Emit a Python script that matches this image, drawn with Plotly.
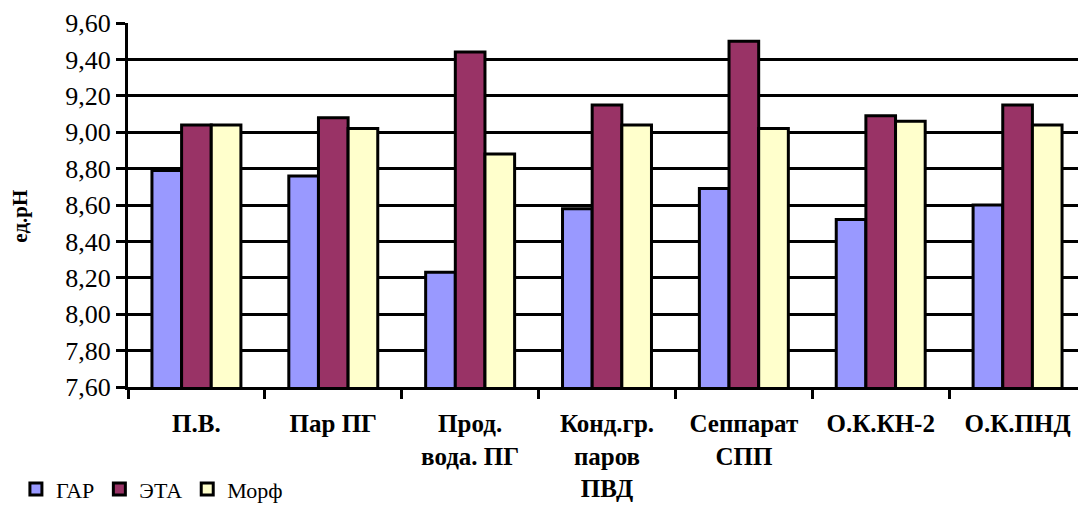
import plotly.graph_objects as go

categories = ["П.В.", "Пар ПГ", "Прод.<br>вода. ПГ", "Конд.гр.<br>паров<br>ПВД",
              "Сеппарат<br>СПП", "О.К.КН-2", "О.К.ПНД"]
gar = [8.79, 8.76, 8.23, 8.58, 8.69, 8.52, 8.60]
eta = [9.04, 9.08, 9.44, 9.15, 9.50, 9.09, 9.15]
morf = [9.04, 9.02, 8.88, 9.04, 9.02, 9.06, 9.04]
series_names = ["ГАР", "ЭТА", "Морф"]
y_ticks = [7.6, 7.8, 8.0, 8.2, 8.4, 8.6, 8.8, 9.0, 9.2, 9.4, 9.6]

colors = ["#9999FF", "#993366", "#FFFFCC"]

fig = go.Figure()
for name, vals, col in zip(series_names, [gar, eta, morf], colors):
    fig.add_trace(go.Bar(
        x=categories, y=vals, name=name,
        marker=dict(color=col, line=dict(color="black", width=3)),
    ))

serif = "Liberation Serif"

# page body has an 8px default margin, so the figure is sized 8px smaller
fig.update_layout(
    width=1078, height=498,
    margin=dict(l=120, r=0, t=15, b=119, autoexpand=False),
    paper_bgcolor="white", plot_bgcolor="white",
    barmode="group", bargap=0.35, bargroupgap=0.0,
    separators=", ",
    font=dict(family=serif, color="black"),
    showlegend=True,
    legend=dict(
        orientation="h", x=-0.117, xanchor="left", y=-0.281, yanchor="middle",
        font=dict(family=serif, size=22, color="black"),
        traceorder="normal", itemwidth=30,
        bgcolor="rgba(0,0,0,0)",
    ),
    xaxis=dict(
        automargin=False,
        showline=True, linecolor="black", linewidth=3,
        ticks="outside", tickson="boundaries", ticklen=9, tickwidth=3, tickcolor="black",
        tickfont=dict(family=serif, size=25, color="black", weight="bold"),
        ticklabelstandoff=12,
        showgrid=False,
    ),
    yaxis=dict(
        automargin=False,
        range=[7.6, 9.6], tickvals=y_ticks, tickformat=".2f",
        showline=True, linecolor="black", linewidth=3,
        ticks="outside", ticklen=9, tickwidth=3, tickcolor="black",
        tickfont=dict(family=serif, size=26, color="black"),
        showgrid=True, gridcolor="black", gridwidth=3,
        zeroline=False,
    ),
    annotations=[dict(
        text="ед.рН", textangle=-90, xref="paper", yref="paper",
        x=-0.113, y=0.47, xanchor="center", yanchor="middle", showarrow=False,
        font=dict(family=serif, size=21, color="black", weight="bold"),
    )],
)

fig.write_html("out.html")
